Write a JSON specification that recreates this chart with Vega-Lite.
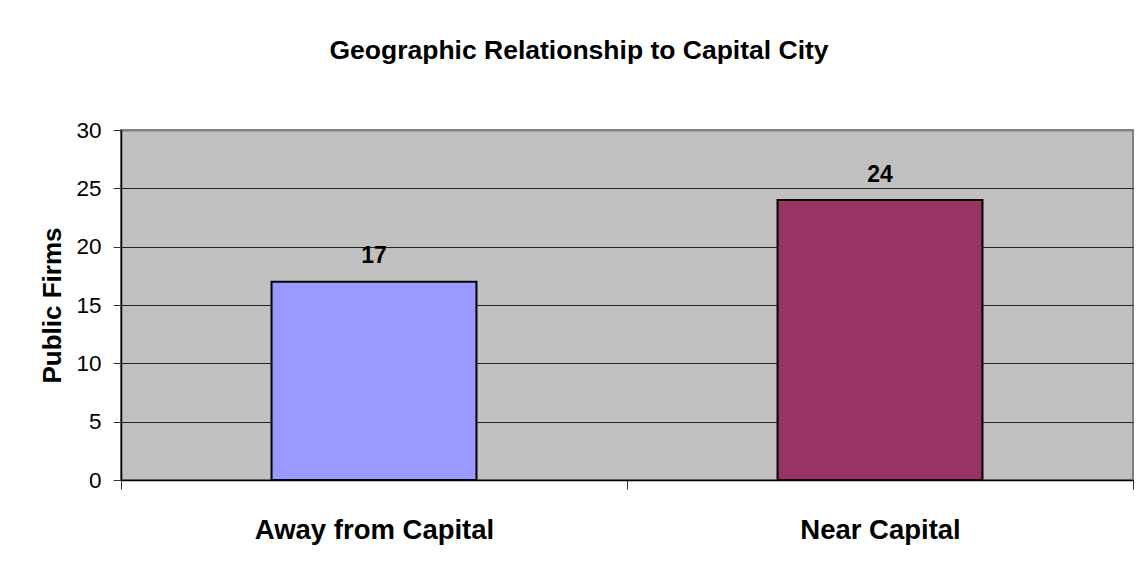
{
  "$schema": "https://vega.github.io/schema/vega-lite/v6.json",
  "width": 1012,
  "height": 350,
  "autosize": {"type": "none"},
  "padding": {"left": 121, "top": 130, "right": 11, "bottom": 91},
  "background": "white",
  "title": {
    "text": "Geographic Relationship to Capital City",
    "font": "Liberation Sans",
    "fontSize": 26.5,
    "fontWeight": "bold",
    "color": "black",
    "anchor": "middle",
    "frame": "group",
    "baseline": "alphabetic",
    "offset": 34,
    "dx": -48
  },
  "config": {
    "font": "Liberation Sans",
    "view": {"fill": "#C0C0C0", "stroke": "#808080", "strokeWidth": 2}
  },
  "data": {
    "values": [
      {"location": "Away from Capital", "firms": 17, "color": "#9999FF"},
      {"location": "Near Capital", "firms": 24, "color": "#993366"}
    ]
  },
  "encoding": {
    "x": {
      "field": "location",
      "type": "nominal",
      "sort": null,
      "scale": {"paddingInner": 0, "paddingOuter": 0},
      "axis": {
        "title": null,
        "labelAngle": 0,
        "labelFont": "Liberation Sans",
        "labelFontSize": 27.5,
        "labelFontWeight": "bold",
        "labelColor": "black",
        "labelBaseline": "alphabetic",
        "labelPadding": 49,
        "labelLimit": 0,
        "tickBand": "extent",
        "tickSize": 9,
        "tickColor": "#333333",
        "domainColor": "black",
        "domainWidth": 1.5
      }
    },
    "y": {
      "field": "firms",
      "type": "quantitative",
      "scale": {"domain": [0, 30]},
      "axis": {
        "title": "Public Firms",
        "titleFont": "Liberation Sans",
        "titleFontSize": 26,
        "titleFontWeight": "bold",
        "titleColor": "black",
        "titleBaseline": "alphabetic",
        "titlePadding": 15,
        "values": [0, 5, 10, 15, 20, 25, 30],
        "labelFont": "Liberation Sans",
        "labelFontSize": 22.5,
        "labelColor": "black",
        "labelPadding": 12,
        "tickSize": 8,
        "tickColor": "#333333",
        "domainColor": "black",
        "domainWidth": 1.5,
        "grid": true,
        "gridColor": {"condition": {"test": "datum.value === 30", "value": "#808080"}, "value": "#222222"},
        "gridWidth": {"condition": {"test": "datum.value === 30", "value": 2}, "value": 1}
      }
    }
  },
  "layer": [
    {
      "mark": {"type": "bar", "width": {"band": 0.405}, "stroke": "black", "strokeWidth": 2},
      "encoding": {
        "color": {"field": "color", "type": "nominal", "scale": null}
      }
    },
    {
      "mark": {
        "type": "text",
        "font": "Liberation Sans",
        "fontSize": 23,
        "fontWeight": "bold",
        "color": "black",
        "baseline": "alphabetic",
        "dy": -18.5
      },
      "encoding": {
        "text": {"field": "firms", "type": "quantitative"}
      }
    }
  ]
}
